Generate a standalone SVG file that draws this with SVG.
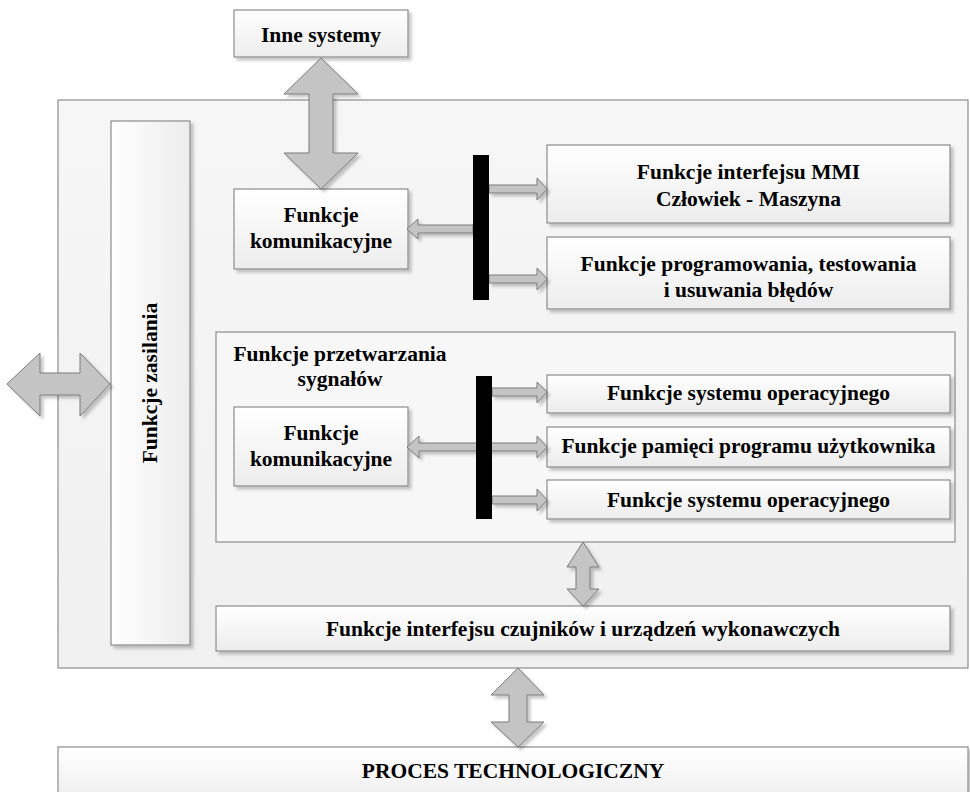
<svg xmlns="http://www.w3.org/2000/svg" width="970" height="792" viewBox="0 0 970 792">
<defs>
<linearGradient id="gv" x1="0" y1="0" x2="0" y2="1"><stop offset="0" stop-color="#ffffff"/><stop offset="1" stop-color="#ececec"/></linearGradient>
<linearGradient id="gh" x1="0" y1="0" x2="1" y2="0"><stop offset="0" stop-color="#ffffff"/><stop offset="1" stop-color="#ececec"/></linearGradient>
<linearGradient id="gc" x1="0" y1="0" x2="0" y2="1"><stop offset="0" stop-color="#f6f6f6"/><stop offset="1" stop-color="#f0f0f0"/></linearGradient>
<filter id="sh" x="-10%" y="-10%" width="130%" height="130%"><feDropShadow dx="3" dy="3" stdDeviation="1.5" flood-color="#000" flood-opacity="0.22"/></filter>
</defs>
<style>
.box{fill:url(#gv);stroke:#8c8c8c;stroke-width:1.2;filter:url(#sh)}
.cont{fill:url(#gc);stroke:#8c8c8c;stroke-width:1.2}
.arr{fill:#c4c4c4;stroke:#7a7a7a;stroke-width:1;filter:url(#sh)}
.bus{fill:#000}
text{font-family:"Liberation Serif","Times New Roman",serif;font-weight:bold;font-size:21.5px;fill:#000;text-anchor:middle}
</style>
<rect class="cont" x="58" y="100" width="910" height="568"/>
<g id="process"><rect class="box" x="58" y="747" width="910" height="60"/><text x="513" y="778">PROCES TECHNOLOGICZNY</text></g>
<g id="inne"><rect class="box" x="234" y="10" width="174" height="47"/><text x="321" y="42">Inne systemy</text></g>
<g id="zasilania"><rect class="box" x="111" y="121" width="79" height="524" style="fill:url(#gh)"/><text transform="translate(157,383) rotate(-90)">Funkcje zasilania</text></g>
<g id="kom1"><rect class="box" x="234" y="189" width="174" height="80"/><text x="321" y="222">Funkcje</text><text x="321" y="248">komunikacyjne</text></g>
<g id="mmi"><rect class="box" x="547" y="145" width="403" height="78"/><text x="748.5" y="179">Funkcje interfejsu MMI</text><text x="748.5" y="206">Człowiek - Maszyna</text></g>
<g id="prog"><rect class="box" x="547" y="237" width="403" height="72"/><text x="748.5" y="271">Funkcje programowania, testowania</text><text x="748.5" y="297">i usuwania błędów</text></g>
<g id="przetw"><rect class="cont" x="216" y="332" width="739" height="210" style="fill:#f7f7f7"/><text x="340" y="361">Funkcje przetwarzania</text><text x="340" y="386">sygnałów</text></g>
<g id="kom2"><rect class="box" x="234" y="407" width="174" height="79"/><text x="321" y="440">Funkcje</text><text x="321" y="466">komunikacyjne</text></g>
<g id="sys1"><rect class="box" x="547" y="375" width="403" height="38"/><text x="748.5" y="400">Funkcje systemu operacyjnego</text></g>
<g id="pam"><rect class="box" x="547" y="427" width="403" height="40"/><text x="748.5" y="453">Funkcje pamięci programu użytkownika</text></g>
<g id="sys2"><rect class="box" x="547" y="480" width="403" height="39"/><text x="748.5" y="507">Funkcje systemu operacyjnego</text></g>
<g id="sensor"><rect class="box" x="216" y="606" width="734" height="45"/><text x="583" y="636">Funkcje interfejsu czujników i urządzeń wykonawczych</text></g>
<g id="connectors">
<polygon class="arr" points="321,58 358,94 333,94 333,153 358,153 321,189 284,153 309,153 309,94 284,94"/>
<polygon class="arr" points="7,384 40,353 40,373 80,373 80,353 110,384 80,416 80,395 40,395 40,416"/>
<polygon class="arr" points="583,542 599,567 590,567 590,589 599,589 583,606 567,589 576,589 576,567 567,567"/>
<polygon class="arr" points="518,668 544,695 527,695 527,722 544,722 518,747 491,722 509,722 509,695 491,695"/>
<polygon class="arr" points="489,185 537,185 537,178 547,189 537,200 537,193 489,193"/>
<polygon class="arr" points="489,275 537,275 537,268 547,279 537,290 537,283 489,283"/>
<polygon class="arr" points="473,225 418,225 418,219 407,229 418,239 418,233 473,233"/>
<polygon class="arr" points="492,388 537,388 537,382 547,392 537,403 537,396 492,396"/>
<polygon class="arr" points="480,443 537,443 537,436 547,447 537,458 537,451 480,451"/>
<polygon class="arr" points="480,443 419,443 419,436 407,447 419,458 419,451 480,451"/>
<polygon class="arr" points="492,496 537,496 537,489 547,500 537,511 537,504 492,504"/>
<rect class="bus" x="473" y="155" width="16" height="145"/>
<rect class="bus" x="476" y="376" width="16" height="143"/>
</g>
</svg>
